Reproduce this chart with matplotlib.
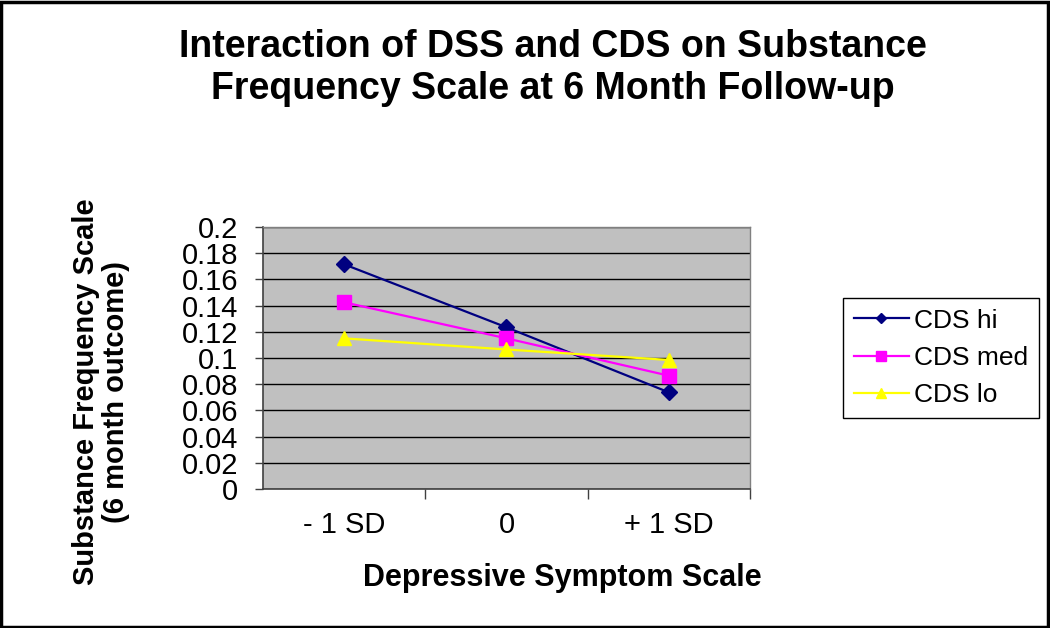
import numpy as np
import matplotlib
matplotlib.use('Agg')
import matplotlib.pyplot as plt
from matplotlib.patches import Rectangle
from matplotlib.ticker import FixedLocator

plt.rcParams['font.family'] = ['Liberation Sans', 'DejaVu Sans']

# data
categories = ['- 1 SD', '0', '+ 1 SD']
cds_hi = [0.1715, 0.1234, 0.0738]
cds_med = [0.1425, 0.1150, 0.0865]
cds_lo = [0.1150, 0.1065, 0.0985]
series_names = ['CDS hi', 'CDS med', 'CDS lo']
y_ticks = [0, 0.02, 0.04, 0.06, 0.08, 0.1, 0.12, 0.14, 0.16, 0.18, 0.2]
y_labels = ['0', '0.02', '0.04', '0.06', '0.08', '0.1', '0.12', '0.14', '0.16', '0.18', '0.2']

W, H = 1050, 628
fig = plt.figure(figsize=(W/100, H/100), dpi=100)
fig.patches.append(Rectangle((0.001, 0.002), 0.997, 0.995, transform=fig.transFigure,
                             fill=False, edgecolor='black', linewidth=2.5))

ax = fig.add_axes([263/W, 1-489/H, (750-263)/W, (489-227)/H])
ax.set_facecolor('#C0C0C0')

x = np.arange(len(categories))
ax.plot(x, cds_hi, '-D', color='#000080', markersize=8, linewidth=1.6, label=series_names[0])
ax.plot(x, cds_med, '-s', color='#FF00FF', markersize=10, linewidth=1.6, label=series_names[1])
ax.plot(x, cds_lo, '-^', color='#FFFF00', markersize=10, linewidth=1.6, label=series_names[2])

ax.set_xlim(-0.5, 2.5)
ax.set_ylim(0, 0.2)
ax.set_yticks(y_ticks)
ax.set_yticklabels(y_labels, fontsize=21)
ax.yaxis.grid(True, color='black', linewidth=1.0)
ax.set_axisbelow(True)

ax.set_xticks(x)
ax.set_xticklabels(categories, fontsize=21)
ax.tick_params(axis='x', which='major', length=0, pad=16)
ax.xaxis.set_minor_locator(FixedLocator([0.5, 1.5, 2.5]))
ax.tick_params(axis='x', which='minor', length=7, width=1, color='#404040', direction='out')
ax.tick_params(axis='y', length=6, width=1, color='#404040', direction='out', pad=12)

for s in ['left', 'bottom']:
    ax.spines[s].set_color('#404040')
    ax.spines[s].set_linewidth(1.2)
for s in ['top', 'right']:
    ax.spines[s].set_color('#808080')
    ax.spines[s].set_linewidth(1.0)

fig.text(562/W, 1-578/H, 'Depressive Symptom Scale', fontsize=22, fontweight='bold',
         ha='center', va='center')
fig.text(101/W, 1-392/H, 'Substance Frequency Scale\n(6 month outcome)', fontsize=21,
         fontweight='bold', rotation=90, ha='center', va='center', linespacing=1.05)

fig.text(553/W, 1-29/H, 'Interaction of DSS and CDS on Substance\nFrequency Scale at 6 Month Follow-up',
         fontsize=27, fontweight='bold', ha='center', va='top', linespacing=1.2)

leg = fig.legend(loc='upper left', bbox_to_anchor=(843/W, 1-298/H), fontsize=19,
                 frameon=True, fancybox=False, framealpha=1, edgecolor='black',
                 handlelength=2.1, handletextpad=0.2, borderpad=0.4, labelspacing=0.5,
                 borderaxespad=0, markerscale=0.7)
leg.get_frame().set_linewidth(1.0)

fig.savefig('out.png', dpi=100)
